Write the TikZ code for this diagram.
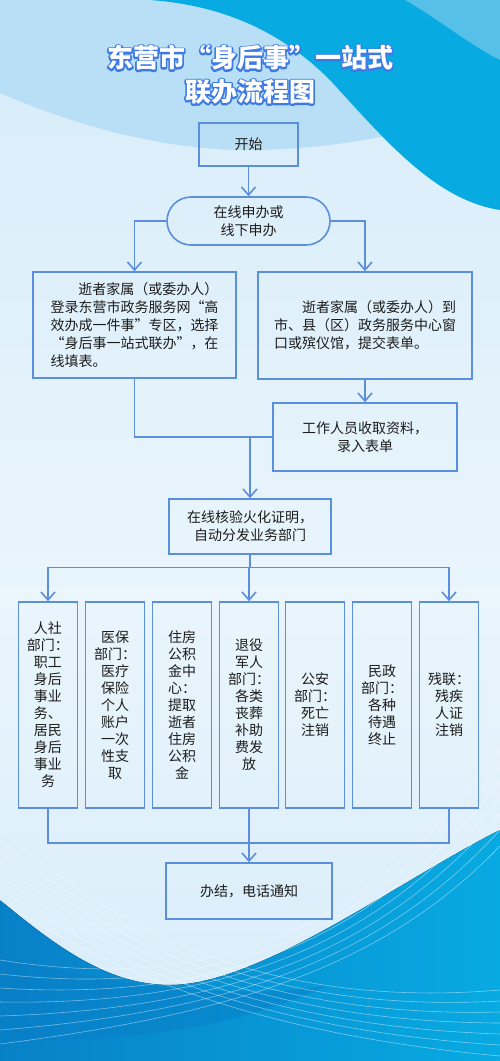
\documentclass[tikz,border=0pt]{standalone}
\usepackage{fontspec}
\setmainfont{Noto Sans CJK SC}[RawFeature=+fwid]
\usepackage{tikz}
\usetikzlibrary{arrows.meta,positioning,calc}
\definecolor{flowblue}{RGB}{92,142,222}
\definecolor{titleblue}{RGB}{62,122,228}
\definecolor{inktext}{RGB}{28,28,28}
\definecolor{skytop}{RGB}{184,223,245}
\definecolor{skymid}{RGB}{214,236,249}
\definecolor{skylow}{RGB}{234,245,252}
\definecolor{cyanwave}{RGB}{8,170,226}
\definecolor{cyanlight}{RGB}{86,192,233}
\definecolor{deepwave}{RGB}{8,128,200}
% outlined title text: blue stroke underneath, white glyphs on top
\newcommand{\outlinedtext}[1]{\rlap{\special{pdf:literal direct 0.243 0.478 0.894 RG 3.2 w 1 j 1 Tr}#1\special{pdf:literal direct 0 Tr}}#1}
\tikzset{
  flowbox/.style={draw=flowblue, line width=1.6pt, align=center, text=inktext, font=\fontsize{14pt}{18pt}\selectfont},
  deptbox/.style={flowbox, minimum width=59pt, minimum height=206pt, inner sep=1pt, font=\fontsize{14pt}{17pt}\selectfont},
  flowline/.style={draw=flowblue, line width=1.6pt},
  flowarrow/.style={flowline, -{Straight Barb[length=8pt,width=14pt]}},
  titletext/.style={font=\fontsize{26pt}{30pt}\selectfont\bfseries, inner sep=0pt, text=white},
  waveline/.style={draw=white, line width=0.6pt, opacity=0.45}
}
\begin{document}
\begin{tikzpicture}[x=1pt,y=-1pt]
  \useasboundingbox (0,0) rectangle (500,1061);
  % Background
  \fill[top color=skymid, bottom color=skylow] (0,0) rectangle (500,600);
  \fill[top color=skylow, bottom color=skymid] (0,600) rectangle (500,1061);
  \fill[skytop] (0,0) -- (0,93) .. controls (90,132) and (180,152) .. (260,150) .. controls (330,148) and (380,138) .. (430,126) -- (430,0) -- cycle;
  \fill[cyanwave] (150,0) .. controls (220,5) and (280,30) .. (330,80) .. controls (385,140) and (435,200) .. (500,210) -- (500,0) -- cycle;
  \fill[cyanlight] (405,0) .. controls (440,20) and (470,45) .. (500,60) -- (500,0) -- cycle;
  \fill[left color=deepwave, right color=cyanwave] (0,900) .. controls (60,950) and (110,985) .. (170,985) .. controls (260,985) and (400,880) .. (500,830) -- (500,1061) -- (0,1061) -- cycle;
  \fill[deepwave, opacity=0.55] (0,955) .. controls (120,990) and (250,1000) .. (330,985) .. controls (250,1020) and (150,1045) .. (0,1040) -- cycle;
  \foreach \k in {0,...,6} {
    \draw[waveline] (0,828+12*\k) .. controls (110,925+8*\k) and (260,1010+4*\k) .. (500,990+11*\k);
    \draw[waveline] (500,750+16*\k) .. controls (390,900+10*\k) and (250,1000+2*\k) .. (0,960+14*\k);
  }
  % Title
  \node[titletext] (titleA) at (250,58) {\outlinedtext{东营市“身后事”一站式}};
  \node[titletext] (titleB) at (250,92) {\outlinedtext{联办流程图}};
  % Flow nodes
  \node[flowbox, minimum width=99pt, minimum height=43pt] (start) at (248.5,144.5) {开始};
  \node[flowbox, rounded corners=24pt, minimum width=163pt, minimum height=48pt] (online) at (248.5,221) {在线申办或\\线下申办};
  \node[flowbox, align=left, minimum width=203pt, minimum height=106pt] (leftapply) at (134.5,325) {\hspace{2em}逝者家属（或委办人）\\登录东营市政务服务网“高\\效办成一件事”专区，选择\\“身后事一站式联办”，在\\线填表。};
  \node[flowbox, align=left, minimum width=214pt, minimum height=107pt] (rightapply) at (365,325.5) {\hspace{2em}逝者家属（或委办人）到\\市、县（区）政务服务中心窗\\口或殡仪馆，提交表单。};
  \node[flowbox, minimum width=184pt, minimum height=68pt] (staff) at (365,437) {工作人员收取资料，\\录入表单};
  \node[flowbox, minimum width=162pt, minimum height=55pt] (verify) at (250,526.5) {在线核验火化证明，\\自动分发业务部门};
  % Departments
  \node[deptbox] (dept1) at (48,705) {人社\\部门：\\职工\\身后\\事业\\务、\\居民\\身后\\事业\\务};
  \node[deptbox] (dept2) at (115,705) {医保\\部门：\\医疗\\保险\\个人\\账户\\一次\\性支\\取};
  \node[deptbox] (dept3) at (182,705) {住房\\公积\\金中\\心：\\提取\\逝者\\住房\\公积\\金};
  \node[deptbox] (dept4) at (249,705) {退役\\军人\\部门：\\各类\\丧葬\\补助\\费发\\放};
  \node[deptbox] (dept5) at (315,705) {公安\\部门：\\死亡\\注销};
  \node[deptbox] (dept6) at (382,705) {民政\\部门：\\各种\\待遇\\终止};
  \node[deptbox] (dept7) at (449,705) {残联：\\残疾\\人证\\注销};
  \node[flowbox, minimum width=166pt, minimum height=56pt] (finish) at (249,891) {办结，电话通知};
  % Connectors
  \draw[flowarrow] (start) -- (online);
  \draw[flowarrow] (online.west) -| (leftapply.north);
  \draw[flowarrow] (online.east) -| (rightapply.north);
  \draw[flowarrow] (rightapply) -- (staff);
  \draw[flowline] (leftapply.south) |- (staff.west);
  \draw[flowarrow] (verify.north |- staff.west) -- (verify.north);
  \draw[flowline] (verify.south) -- ++(0,12.5) coordinate (fan);
  \draw[flowarrow] (fan) -| (dept1.north);
  \draw[flowarrow] (fan) -| (dept7.north);
  \draw[flowarrow] (fan -| dept4.north) -- (dept4.north);
  \draw[flowline] (dept1.south) -- ++(0,34) coordinate (join) -| (dept7.south);
  \draw[flowarrow] (dept4.south) -- (finish.north);
\end{tikzpicture}
\end{document}
